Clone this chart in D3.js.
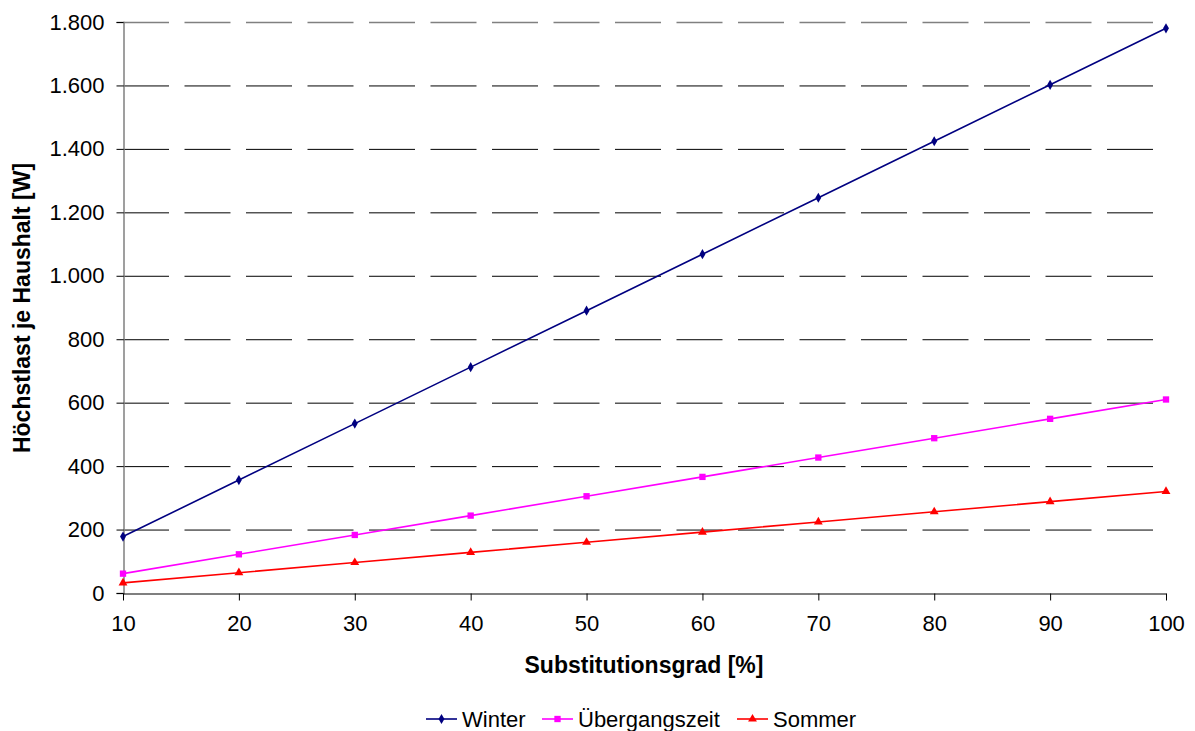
<!DOCTYPE html>
<html><head><meta charset="utf-8">
<script src="https://cdn.jsdelivr.net/npm/d3@7"></script>
<style>body{margin:0;background:#fff}svg{display:block}text{font-family:"Liberation Sans",Arial,sans-serif}</style>
</head><body><svg id="c" width="1195" height="731"></svg>
<script>
const categories = [10,20,30,40,50,60,70,80,90,100];
const winter = [178,356,534,712,890,1068,1246,1424,1602,1780];
const uebergang = [61,122,183,244,305,366,427,488,549,610];
const sommer = [32,64,96,128,160,192,224,256,288,320];
const yTicks = [0,200,400,600,800,1000,1200,1400,1600,1800];
const seriesNames = ["Winter","Übergangszeit","Sommer"];

const series = [
  {name:seriesNames[0], values:winter, color:"#000080", sym:d3.symbolDiamond, size:30},
  {name:seriesNames[1], values:uebergang, color:"#FF00FF", sym:d3.symbolSquare, size:40},
  {name:seriesNames[2], values:sommer, color:"#FF0000", sym:d3.symbolTriangle, size:34}
];

const svg = d3.select("#c");
const L=123, R=1166, T=22, B=593;
const FS = 22;
const x = d3.scalePoint().domain(categories).range([L,R]);
const y = d3.scaleLinear().domain([0,1800]).range([B,T]);
const fmt = v => d3.format(",")(v).replace(/,/g,".");

// gridlines
svg.append("g").selectAll("line").data(yTicks.filter(d=>d>0)).join("line")
  .attr("x1",L).attr("x2",R).attr("y1",d=>y(d)+0.5).attr("y2",d=>y(d)+0.5)
  .attr("stroke",d=>d===1800?"#808080":"#000").attr("stroke-width",d=>d===1800?1.5:1)
  .attr("stroke-dasharray","46,15.5");

// y axis
const ya = svg.append("g").attr("transform",`translate(${L+0.5},0)`)
  .call(d3.axisLeft(y).tickValues(yTicks).tickFormat(fmt).tickSize(7).tickPadding(12));
ya.select(".domain").attr("stroke","#808080").attr("stroke-width",1.5);
ya.selectAll(".tick line").attr("stroke","#000");
ya.selectAll("text").attr("font-size",FS).attr("fill","#000").attr("font-family","Liberation Sans, Arial, sans-serif");

// x axis
const xa = svg.append("g").attr("transform",`translate(0,${B+0.5})`)
  .call(d3.axisBottom(x).tickSize(7).tickPadding(15).tickSizeOuter(0));
xa.select(".domain").attr("stroke","#000").attr("stroke-width",1.2);
xa.selectAll(".tick line").attr("stroke","#000");
xa.selectAll("text").attr("font-size",FS).attr("fill","#000").attr("font-family","Liberation Sans, Arial, sans-serif");

// lines
const line = d3.line().x((d,i)=>x(categories[i])).y(d=>y(d));
series.forEach(s=>{
  svg.append("path").datum(s.values).attr("d",line).attr("fill","none")
    .attr("stroke",s.color).attr("stroke-width",1.6);
  svg.append("g").selectAll("path").data(s.values).join("path")
    .attr("transform",(d,i)=>`translate(${x(categories[i])},${y(d)})`)
    .attr("d",d3.symbol().type(s.sym).size(s.size)).attr("fill",s.color);
});

// axis titles
svg.append("text").attr("x",644).attr("y",673).attr("text-anchor","middle")
  .attr("font-size",FS+1).attr("font-weight","bold").text("Substitutionsgrad [%]");
svg.append("text").attr("transform","translate(30,308) rotate(-90)").attr("text-anchor","middle")
  .attr("font-size",FS+1).attr("font-weight","bold").text("Höchstlast je Haushalt [W]");

// legend
const lx = [426,542,737];
const lg = svg.append("g");
series.forEach((s,i)=>{
  const g = lg.append("g").attr("transform",`translate(${lx[i]},719)`);
  g.append("line").attr("x1",0).attr("x2",31).attr("stroke",s.color).attr("stroke-width",1.6);
  g.append("path").attr("transform","translate(15.5,0)").attr("d",d3.symbol().type(s.sym).size(s.size)).attr("fill",s.color);
  g.append("text").attr("x",36).attr("y",7.5).attr("font-size",FS).text(s.name);
});
</script></body></html>
